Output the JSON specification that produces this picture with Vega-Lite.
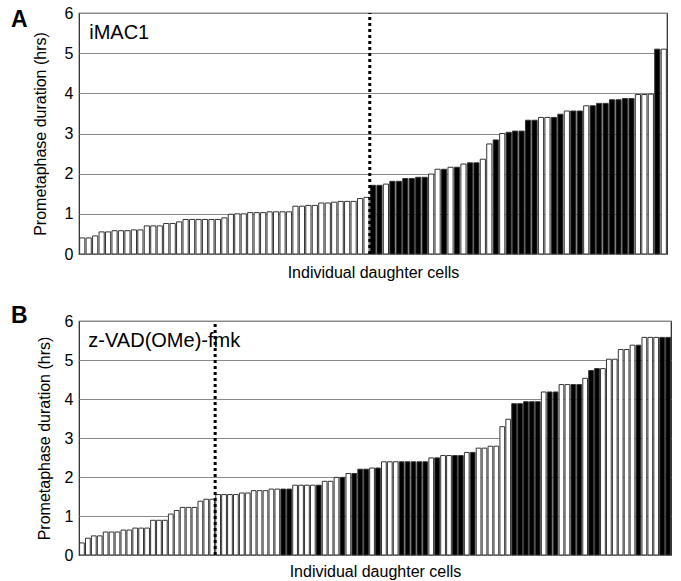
{
  "$schema": "https://vega.github.io/schema/vega-lite/v6.json",
  "padding": {"left": 10, "top": 4, "right": 4, "bottom": 0},
  "config": {
    "font": "Liberation Sans",
    "view": {"stroke": "#222", "strokeWidth": 1.2},
    "axis": {"labelFont": "Liberation Sans", "titleFont": "Liberation Sans", "labelFontSize": 16, "titleFontSize": 16, "titleFontWeight": "normal", "labelColor": "#000", "titleColor": "#000", "gridColor": "#8a8a8a", "gridWidth": 1.2},
    "concat": {"spacing": 23}
  },
  "datasets": {
    "a": [
      {"cell": 1, "hours": 0.40, "kind": "open"}, {"cell": 2, "hours": 0.40, "kind": "open"}, {"cell": 3, "hours": 0.45, "kind": "open"}, {"cell": 4, "hours": 0.55, "kind": "open"}, {"cell": 5, "hours": 0.55, "kind": "open"},
      {"cell": 6, "hours": 0.58, "kind": "open"}, {"cell": 7, "hours": 0.58, "kind": "open"}, {"cell": 8, "hours": 0.58, "kind": "open"}, {"cell": 9, "hours": 0.60, "kind": "open"}, {"cell": 10, "hours": 0.60, "kind": "open"},
      {"cell": 11, "hours": 0.70, "kind": "open"}, {"cell": 12, "hours": 0.70, "kind": "open"}, {"cell": 13, "hours": 0.70, "kind": "open"}, {"cell": 14, "hours": 0.76, "kind": "open"}, {"cell": 15, "hours": 0.76, "kind": "open"},
      {"cell": 16, "hours": 0.80, "kind": "open"}, {"cell": 17, "hours": 0.86, "kind": "open"}, {"cell": 18, "hours": 0.86, "kind": "open"}, {"cell": 19, "hours": 0.86, "kind": "open"}, {"cell": 20, "hours": 0.86, "kind": "open"},
      {"cell": 21, "hours": 0.86, "kind": "open"}, {"cell": 22, "hours": 0.86, "kind": "open"}, {"cell": 23, "hours": 0.90, "kind": "open"}, {"cell": 24, "hours": 0.99, "kind": "open"}, {"cell": 25, "hours": 1.00, "kind": "open"},
      {"cell": 26, "hours": 1.00, "kind": "open"}, {"cell": 27, "hours": 1.03, "kind": "open"}, {"cell": 28, "hours": 1.03, "kind": "open"}, {"cell": 29, "hours": 1.03, "kind": "open"}, {"cell": 30, "hours": 1.05, "kind": "open"},
      {"cell": 31, "hours": 1.05, "kind": "open"}, {"cell": 32, "hours": 1.05, "kind": "open"}, {"cell": 33, "hours": 1.05, "kind": "open"}, {"cell": 34, "hours": 1.19, "kind": "open"}, {"cell": 35, "hours": 1.19, "kind": "open"},
      {"cell": 36, "hours": 1.21, "kind": "open"}, {"cell": 37, "hours": 1.21, "kind": "open"}, {"cell": 38, "hours": 1.27, "kind": "open"}, {"cell": 39, "hours": 1.27, "kind": "open"}, {"cell": 40, "hours": 1.29, "kind": "open"},
      {"cell": 41, "hours": 1.31, "kind": "open"}, {"cell": 42, "hours": 1.31, "kind": "open"}, {"cell": 43, "hours": 1.31, "kind": "open"}, {"cell": 44, "hours": 1.38, "kind": "open"}, {"cell": 45, "hours": 1.41, "kind": "open"},
      {"cell": 46, "hours": 1.71, "kind": "filled"}, {"cell": 47, "hours": 1.71, "kind": "filled"}, {"cell": 48, "hours": 1.74, "kind": "open"}, {"cell": 49, "hours": 1.81, "kind": "filled"}, {"cell": 50, "hours": 1.81, "kind": "filled"},
      {"cell": 51, "hours": 1.88, "kind": "filled"}, {"cell": 52, "hours": 1.88, "kind": "filled"}, {"cell": 53, "hours": 1.91, "kind": "filled"}, {"cell": 54, "hours": 1.91, "kind": "filled"}, {"cell": 55, "hours": 1.99, "kind": "open"},
      {"cell": 56, "hours": 2.11, "kind": "open"}, {"cell": 57, "hours": 2.11, "kind": "filled"}, {"cell": 58, "hours": 2.16, "kind": "open"}, {"cell": 59, "hours": 2.16, "kind": "filled"}, {"cell": 60, "hours": 2.24, "kind": "open"},
      {"cell": 61, "hours": 2.27, "kind": "filled"}, {"cell": 62, "hours": 2.27, "kind": "filled"}, {"cell": 63, "hours": 2.36, "kind": "open"}, {"cell": 64, "hours": 2.74, "kind": "open"}, {"cell": 65, "hours": 2.84, "kind": "filled"},
      {"cell": 66, "hours": 3.00, "kind": "open"}, {"cell": 67, "hours": 3.03, "kind": "filled"}, {"cell": 68, "hours": 3.06, "kind": "filled"}, {"cell": 69, "hours": 3.06, "kind": "filled"}, {"cell": 70, "hours": 3.33, "kind": "filled"},
      {"cell": 71, "hours": 3.33, "kind": "filled"}, {"cell": 72, "hours": 3.40, "kind": "open"}, {"cell": 73, "hours": 3.40, "kind": "open"}, {"cell": 74, "hours": 3.40, "kind": "filled"}, {"cell": 75, "hours": 3.48, "kind": "filled"},
      {"cell": 76, "hours": 3.56, "kind": "open"}, {"cell": 77, "hours": 3.56, "kind": "filled"}, {"cell": 78, "hours": 3.56, "kind": "filled"}, {"cell": 79, "hours": 3.69, "kind": "open"}, {"cell": 80, "hours": 3.69, "kind": "filled"},
      {"cell": 81, "hours": 3.75, "kind": "filled"}, {"cell": 82, "hours": 3.75, "kind": "filled"}, {"cell": 83, "hours": 3.84, "kind": "filled"}, {"cell": 84, "hours": 3.84, "kind": "filled"}, {"cell": 85, "hours": 3.87, "kind": "filled"},
      {"cell": 86, "hours": 3.87, "kind": "filled"}, {"cell": 87, "hours": 3.97, "kind": "open"}, {"cell": 88, "hours": 3.97, "kind": "open"}, {"cell": 89, "hours": 3.98, "kind": "open"}, {"cell": 90, "hours": 5.10, "kind": "filled"},
      {"cell": 91, "hours": 5.10, "kind": "open"}
    ],
    "b": [
      {"cell": 1, "hours": 0.31, "kind": "open"}, {"cell": 2, "hours": 0.43, "kind": "open"}, {"cell": 3, "hours": 0.49, "kind": "open"}, {"cell": 4, "hours": 0.49, "kind": "open"}, {"cell": 5, "hours": 0.59, "kind": "open"},
      {"cell": 6, "hours": 0.59, "kind": "open"}, {"cell": 7, "hours": 0.59, "kind": "open"}, {"cell": 8, "hours": 0.64, "kind": "open"}, {"cell": 9, "hours": 0.64, "kind": "open"}, {"cell": 10, "hours": 0.69, "kind": "open"},
      {"cell": 11, "hours": 0.69, "kind": "open"}, {"cell": 12, "hours": 0.69, "kind": "open"}, {"cell": 13, "hours": 0.89, "kind": "open"}, {"cell": 14, "hours": 0.89, "kind": "open"}, {"cell": 15, "hours": 0.89, "kind": "open"},
      {"cell": 16, "hours": 1.05, "kind": "open"}, {"cell": 17, "hours": 1.14, "kind": "open"}, {"cell": 18, "hours": 1.22, "kind": "open"}, {"cell": 19, "hours": 1.22, "kind": "open"}, {"cell": 20, "hours": 1.22, "kind": "open"},
      {"cell": 21, "hours": 1.38, "kind": "open"}, {"cell": 22, "hours": 1.43, "kind": "open"}, {"cell": 23, "hours": 1.43, "kind": "open"},
      {"cell": 24, "hours": 1.55, "kind": "open"}, {"cell": 25, "hours": 1.55, "kind": "open"}, {"cell": 26, "hours": 1.55, "kind": "open"}, {"cell": 27, "hours": 1.55, "kind": "open"}, {"cell": 28, "hours": 1.59, "kind": "open"},
      {"cell": 29, "hours": 1.59, "kind": "open"}, {"cell": 30, "hours": 1.65, "kind": "open"}, {"cell": 31, "hours": 1.65, "kind": "open"}, {"cell": 32, "hours": 1.65, "kind": "open"}, {"cell": 33, "hours": 1.69, "kind": "open"},
      {"cell": 34, "hours": 1.69, "kind": "open"}, {"cell": 35, "hours": 1.69, "kind": "filled"}, {"cell": 36, "hours": 1.69, "kind": "filled"}, {"cell": 37, "hours": 1.79, "kind": "open"}, {"cell": 38, "hours": 1.79, "kind": "open"},
      {"cell": 39, "hours": 1.79, "kind": "open"}, {"cell": 40, "hours": 1.79, "kind": "open"}, {"cell": 41, "hours": 1.79, "kind": "filled"}, {"cell": 42, "hours": 1.89, "kind": "open"}, {"cell": 43, "hours": 1.89, "kind": "open"},
      {"cell": 44, "hours": 1.99, "kind": "open"}, {"cell": 45, "hours": 1.99, "kind": "filled"}, {"cell": 46, "hours": 2.09, "kind": "open"}, {"cell": 47, "hours": 2.09, "kind": "filled"}, {"cell": 48, "hours": 2.20, "kind": "filled"},
      {"cell": 49, "hours": 2.20, "kind": "filled"}, {"cell": 50, "hours": 2.23, "kind": "open"}, {"cell": 51, "hours": 2.23, "kind": "filled"}, {"cell": 52, "hours": 2.39, "kind": "open"}, {"cell": 53, "hours": 2.39, "kind": "open"},
      {"cell": 54, "hours": 2.39, "kind": "open"}, {"cell": 55, "hours": 2.39, "kind": "filled"}, {"cell": 56, "hours": 2.39, "kind": "filled"}, {"cell": 57, "hours": 2.39, "kind": "filled"}, {"cell": 58, "hours": 2.39, "kind": "filled"},
      {"cell": 59, "hours": 2.39, "kind": "filled"}, {"cell": 60, "hours": 2.49, "kind": "open"}, {"cell": 61, "hours": 2.49, "kind": "filled"}, {"cell": 62, "hours": 2.55, "kind": "open"}, {"cell": 63, "hours": 2.55, "kind": "open"},
      {"cell": 64, "hours": 2.55, "kind": "filled"}, {"cell": 65, "hours": 2.55, "kind": "filled"}, {"cell": 66, "hours": 2.63, "kind": "open"}, {"cell": 67, "hours": 2.63, "kind": "filled"}, {"cell": 68, "hours": 2.74, "kind": "open"},
      {"cell": 69, "hours": 2.74, "kind": "open"}, {"cell": 70, "hours": 2.79, "kind": "open"}, {"cell": 71, "hours": 2.79, "kind": "open"}, {"cell": 72, "hours": 3.29, "kind": "open"}, {"cell": 73, "hours": 3.48, "kind": "open"},
      {"cell": 74, "hours": 3.88, "kind": "filled"}, {"cell": 75, "hours": 3.88, "kind": "filled"}, {"cell": 76, "hours": 3.93, "kind": "filled"}, {"cell": 77, "hours": 3.93, "kind": "filled"}, {"cell": 78, "hours": 3.93, "kind": "filled"},
      {"cell": 79, "hours": 4.18, "kind": "open"}, {"cell": 80, "hours": 4.18, "kind": "filled"}, {"cell": 81, "hours": 4.18, "kind": "filled"}, {"cell": 82, "hours": 4.37, "kind": "open"}, {"cell": 83, "hours": 4.37, "kind": "open"},
      {"cell": 84, "hours": 4.37, "kind": "filled"}, {"cell": 85, "hours": 4.37, "kind": "filled"}, {"cell": 86, "hours": 4.53, "kind": "open"}, {"cell": 87, "hours": 4.73, "kind": "filled"}, {"cell": 88, "hours": 4.78, "kind": "filled"},
      {"cell": 89, "hours": 4.78, "kind": "open"}, {"cell": 90, "hours": 5.02, "kind": "open"}, {"cell": 91, "hours": 5.02, "kind": "open"}, {"cell": 92, "hours": 5.27, "kind": "open"}, {"cell": 93, "hours": 5.27, "kind": "open"},
      {"cell": 94, "hours": 5.38, "kind": "open"}, {"cell": 95, "hours": 5.38, "kind": "filled"}, {"cell": 96, "hours": 5.58, "kind": "open"}, {"cell": 97, "hours": 5.58, "kind": "open"}, {"cell": 98, "hours": 5.58, "kind": "open"},
      {"cell": 99, "hours": 5.58, "kind": "filled"}, {"cell": 100, "hours": 5.58, "kind": "filled"}
    ]
  },
  "vconcat": [
    {
      "width": 588,
      "height": 241,
      "title": {"text": "A", "anchor": "start", "frame": "bounds", "fontSize": 23, "fontWeight": "bold", "color": "#000", "dx": -21, "dy": 27, "offset": 0, "baseline": "top"},
      "layer": [
        {
          "data": {"name": "a"},
          "mark": {"type": "bar", "stroke": "#333", "strokeWidth": 1},
          "encoding": {
            "x": {"field": "cell", "type": "ordinal", "scale": {"paddingInner": 0.2, "paddingOuter": 0.1}, "axis": {"labels": false, "ticks": false, "domain": false, "title": "Individual daughter cells", "titlePadding": 10}},
            "y": {"field": "hours", "type": "quantitative", "scale": {"domain": [0, 6]}, "axis": {"values": [0, 1, 2, 3, 4, 5, 6], "tickCount": 7, "labelOverlap": false, "title": "Prometaphase duration (hrs)", "ticks": false, "domain": false, "labelPadding": 6, "titlePadding": 16}},
            "fill": {"field": "kind", "type": "nominal", "scale": {"domain": ["open", "filled"], "range": ["#ffffff", "#000000"]}, "legend": null}
          }
        },
        {
          "data": {"values": [{}]},
          "mark": {"type": "rule", "strokeWidth": 3, "strokeDash": [3, 3], "color": "#000"},
          "encoding": {"x": {"datum": 46, "type": "ordinal", "bandPosition": -0.125}, "y": {"datum": 0}, "y2": {"datum": 6}}
        },
        {
          "data": {"values": [{}]},
          "mark": {"type": "text", "align": "left", "baseline": "middle", "fontSize": 20, "text": "iMAC1", "color": "#000"},
          "encoding": {"x": {"datum": 2, "type": "ordinal", "bandPosition": 0.6}, "y": {"datum": 5.5}}
        }
      ]
    },
    {
      "width": 592,
      "height": 234,
      "title": {"text": "B", "anchor": "start", "frame": "bounds", "fontSize": 23, "fontWeight": "bold", "color": "#000", "dx": -25, "dy": 15, "offset": 0, "baseline": "top"},
      "layer": [
        {
          "data": {"name": "b"},
          "mark": {"type": "bar", "stroke": "#333", "strokeWidth": 1},
          "encoding": {
            "x": {"field": "cell", "type": "ordinal", "scale": {"paddingInner": 0.2, "paddingOuter": 0.1}, "axis": {"labels": false, "ticks": false, "domain": false, "title": "Individual daughter cells", "titlePadding": 8}},
            "y": {"field": "hours", "type": "quantitative", "scale": {"domain": [0, 6]}, "axis": {"values": [0, 1, 2, 3, 4, 5, 6], "tickCount": 7, "labelOverlap": false, "title": "Prometaphase duration (hrs)", "ticks": false, "domain": false, "labelPadding": 6, "titlePadding": 12}},
            "fill": {"field": "kind", "type": "nominal", "scale": {"domain": ["open", "filled"], "range": ["#ffffff", "#000000"]}, "legend": null}
          }
        },
        {
          "data": {"values": [{}]},
          "mark": {"type": "rule", "strokeWidth": 3, "strokeDash": [3, 3], "color": "#000"},
          "encoding": {"x": {"datum": 24, "type": "ordinal", "bandPosition": -0.125}, "y": {"datum": 0}, "y2": {"datum": 6}}
        },
        {
          "data": {"values": [{}]},
          "mark": {"type": "text", "align": "left", "baseline": "middle", "fontSize": 20, "text": "z-VAD(OMe)-fmk", "color": "#000"},
          "encoding": {"x": {"datum": 2, "type": "ordinal", "bandPosition": 0.6}, "y": {"datum": 5.5}}
        }
      ]
    }
  ]
}
